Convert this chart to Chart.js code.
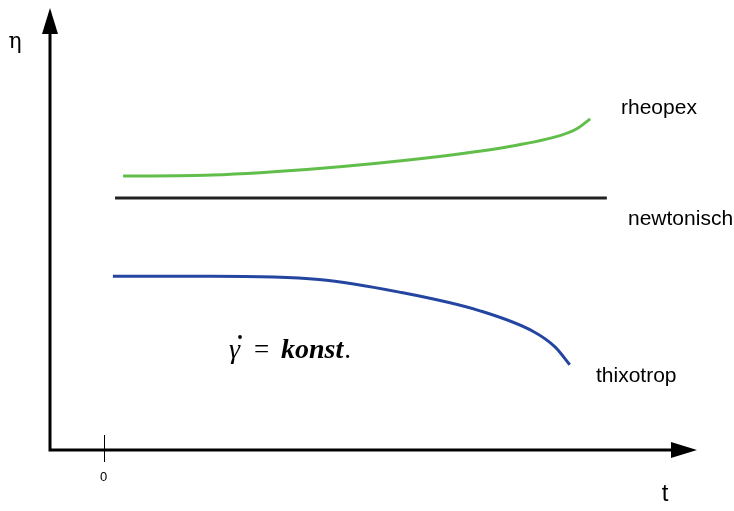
<!DOCTYPE html>
<html>
<head>
<meta charset="utf-8">
<script src="https://cdn.jsdelivr.net/npm/chart.js@4/dist/chart.umd.min.js"></script>
<style>
  html, body { margin: 0; padding: 0; background: #fff; }
  #wrap { width: 734px; height: 511px; }
</style>
</head>
<body>
<div id="wrap"><canvas id="c"></canvas></div>
<script>
// Zeit t (willkürliche Einheiten) und Viskosität η
const rheopexT   = [0.36, 2.0, 4.0, 6.0, 7.5, 8.5, 8.8, 9.05];
const rheopexEta = [4.98, 5.00, 5.12, 5.31, 5.51, 5.72, 5.84, 6.02];

const newtonT   = [0.21, 9.36];
const newtonEta = [4.58, 4.58];

const thixoT   = [0.17, 2.0, 4.0, 5.5, 7.0, 8.0, 8.4, 8.67];
const thixoEta = [3.16, 3.16, 3.10, 2.87, 2.53, 2.15, 1.87, 1.55];

const xTicks = [0];
const seriesNames = ['rheopex', 'newtonisch', 'thixotrop'];

const pts = (xs, ys) => xs.map((x, i) => ({ x, y: ys[i] }));

// Plugin : Achsen mit Pfeilen, Beschriftungen
const axesPlugin = {
    id: 'axesArrows',
    afterDraw(chart) {
        const { ctx, chartArea: { left, right, top, bottom }, scales: { x } } = chart;
        ctx.save();
        ctx.strokeStyle = '#000';
        ctx.fillStyle = '#000';
        ctx.lineWidth = 3;
        ctx.beginPath();
        ctx.moveTo(left, top + 20);
        ctx.lineTo(left, bottom);
        ctx.lineTo(right - 20, bottom);
        ctx.stroke();

        // Pfeilspitzen
        ctx.beginPath();
        ctx.moveTo(left, top - 2);
        ctx.lineTo(left - 8, top + 24);
        ctx.lineTo(left + 8, top + 24);
        ctx.closePath();
        ctx.fill();
        ctx.beginPath();
        ctx.moveTo(right + 2, bottom);
        ctx.lineTo(right - 24, bottom - 8);
        ctx.lineTo(right - 24, bottom + 8);
        ctx.closePath();
        ctx.fill();

        // Tick bei 0
        ctx.lineWidth = 1;
        xTicks.forEach(t => {
            const px = Math.round(x.getPixelForValue(t)) + 0.5;
            ctx.beginPath();
            ctx.moveTo(px, bottom - 15);
            ctx.lineTo(px, bottom + 12);
            ctx.stroke();
            ctx.font = '13px "Liberation Sans Narrow", "Liberation Sans", Arial';
            ctx.textAlign = 'center';
            ctx.textBaseline = 'middle';
            ctx.fillText(String(t), px - 1, bottom + 27);
        });

        // Achsentitel
        ctx.font = '22px "DejaVu Serif", serif';
        ctx.textAlign = 'center';
        ctx.textBaseline = 'middle';
        ctx.fillText('η', 15, 42);
        ctx.font = '24px "Liberation Sans", Arial';
        ctx.fillText('t', 665, 494);

        // Kurvenbeschriftungen
        ctx.font = '21px "Liberation Sans", Arial';
        ctx.textAlign = 'left';
        ctx.fillText(seriesNames[0], 621, 108);
        ctx.fillText(seriesNames[1], 628, 219);
        ctx.fillText(seriesNames[2], 596, 376);

        // Formel: γ̇ = konst.
        ctx.textAlign = 'left';
        ctx.textBaseline = 'alphabetic';
        const base = 358;
        ctx.font = 'italic 28px "Liberation Serif", serif';
        ctx.fillText('γ', 229, base);
        ctx.beginPath();
        ctx.arc(240, base - 21, 1.9, 0, Math.PI * 2);
        ctx.fill();
        ctx.font = '27px "Liberation Serif", serif';
        ctx.fillText('=', 254, base);
        ctx.font = 'italic bold 28px "Liberation Serif", serif';
        ctx.fillText('konst', 281, base);
        const w = ctx.measureText('konst').width;
        ctx.font = '27px "Liberation Serif", serif';
        ctx.fillText('.', 281 + w + 1, base);
        ctx.restore();
    },
};

new Chart(document.getElementById('c'), {
    type: 'line',
    plugins: [axesPlugin],
    data: {
        datasets: [
            { label: seriesNames[0], data: pts(rheopexT, rheopexEta), borderColor: '#62be4a', borderWidth: 3, cubicInterpolationMode: 'monotone' },
            { label: seriesNames[1], data: pts(newtonT, newtonEta), borderColor: '#222', borderWidth: 3, tension: 0 },
            { label: seriesNames[2], data: pts(thixoT, thixoEta), borderColor: '#2446a0', borderWidth: 3, cubicInterpolationMode: 'monotone' },
        ],
    },
    options: {
        responsive: true,
        maintainAspectRatio: false,
        animation: false,
        events: [],
        layout: { padding: { left: 50, top: 10, right: 39, bottom: 61 } },
        elements: { point: { radius: 0 } },
        plugins: { legend: { display: false }, tooltip: { enabled: false } },
        scales: {
            x: { type: 'linear', min: -1, max: 11, display: false },
            y: { type: 'linear', min: 0, max: 8, display: false },
        },
    },
});
</script>
</body>
</html>
